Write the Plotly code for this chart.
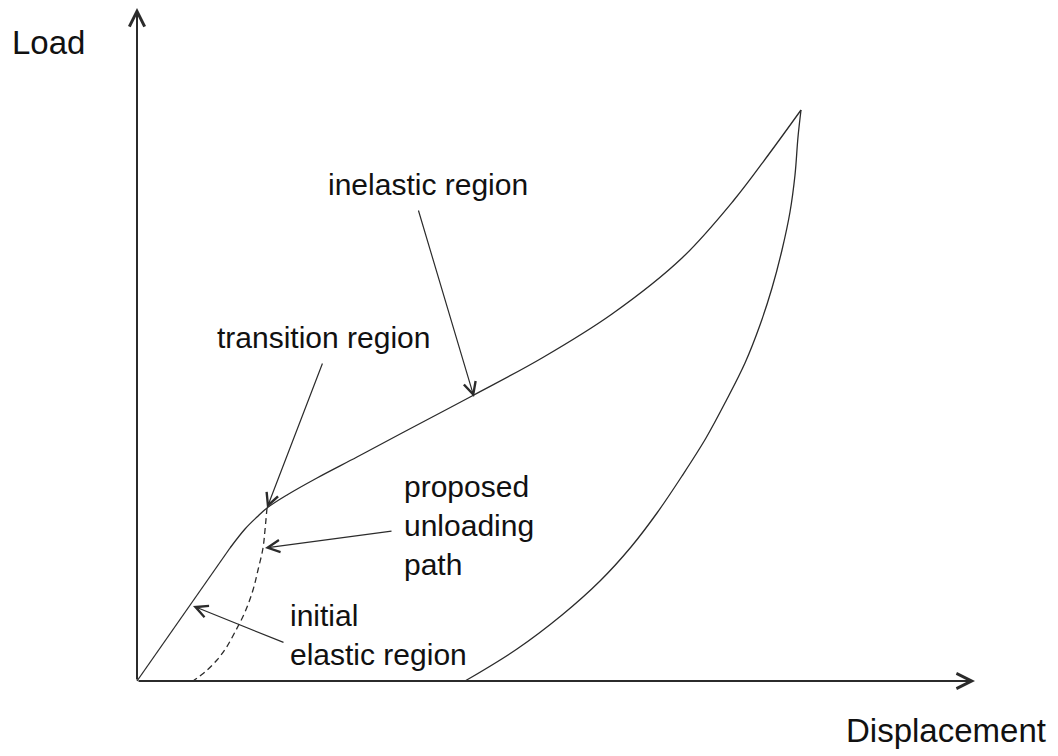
import plotly.graph_objects as go

# loading curve (displacement, load) - initial elastic, transition, inelastic
load_disp = [0, 93, 108, 120, 130, 150, 180, 220, 265, 335, 405, 475, 545, 597, 632, 664]
load_val = [0, 133, 152, 164, 173, 186, 203, 224, 248, 285, 323, 367, 423, 481, 527, 571]

# unloading from the peak back down to zero load
unload_disp = [664, 661, 658, 653, 645, 635, 623, 608, 589, 569, 545, 520, 494, 463, 425, 380, 328]
unload_val = [571, 544, 506, 469, 431, 393, 356, 318, 280, 243, 205, 168, 134, 100, 66, 32, 0]

# proposed unloading path from the end of the elastic region (dashed)
prop_disp = [130, 128, 126, 121, 116, 108, 98, 89, 80, 68, 56]
prop_val = [173, 151, 133, 111, 91, 69, 49, 33, 21, 9, 0]

line_col = '#2b2b2b'
font = "Arial, Liberation Sans, sans-serif"

fig = go.Figure()
fig.add_trace(go.Scatter(x=load_disp[:2], y=load_val[:2], mode='lines',
                         line=dict(color=line_col, width=1.3)))
fig.add_trace(go.Scatter(x=load_disp[1:], y=load_val[1:], mode='lines',
                         line=dict(color=line_col, width=1.3, shape='spline', smoothing=1)))
fig.add_trace(go.Scatter(x=unload_disp, y=unload_val, mode='lines',
                         line=dict(color=line_col, width=1.3, shape='spline', smoothing=1)))
fig.add_trace(go.Scatter(x=prop_disp, y=prop_val, mode='lines',
                         line=dict(color=line_col, width=1.3, dash='6px,4px', shape='spline')))


def arrow(x, y, ax, ay, width=1.2, size=2.0):
    fig.add_annotation(x=x, y=y, ax=ax, ay=ay, xref='x', yref='y', axref='x', ayref='y',
                       text='', showarrow=True, arrowhead=5, arrowwidth=width,
                       arrowsize=size, arrowcolor=line_col)


def label(text, x, y, size=30, xanchor='left'):
    fig.add_annotation(x=x, y=y, xref='x', yref='y', text=text, showarrow=False,
                       xanchor=xanchor, yanchor='middle', align='left',
                       font=dict(family=font, size=size, color='#111111'))


# axes with open arrowheads
arrow(0, 673, 0, 0, width=2, size=1.5)
arrow(838, 0, 0, 0, width=2, size=1.5)

# callout arrows
arrow(337, 284, 281, 472)
arrow(130, 173, 186, 319)
arrow(128, 133, 256, 150)
arrow(56, 75, 148, 38)

label("Load", -127, 639, size=33)
label("Displacement", 911, -49, size=33, xanchor='right')
label("inelastic region", 291, 497, xanchor='center')
label("transition region", 186, 344, xanchor='center')
label("proposed<br>unloading<br>path", 265, 156)
label("initial<br>elastic region", 151, 46)

fig.update_layout(
    width=1058, height=756,
    margin=dict(l=0, r=0, t=0, b=0),
    showlegend=False,
    plot_bgcolor='white', paper_bgcolor='white',
    xaxis=dict(visible=False, range=[-137, 921], fixedrange=True),
    yaxis=dict(visible=False, range=[-75, 681], fixedrange=True),
)

fig.write_html("out.html", config={'displayModeBar': False},
               post_script="document.body.style.margin='0';")
